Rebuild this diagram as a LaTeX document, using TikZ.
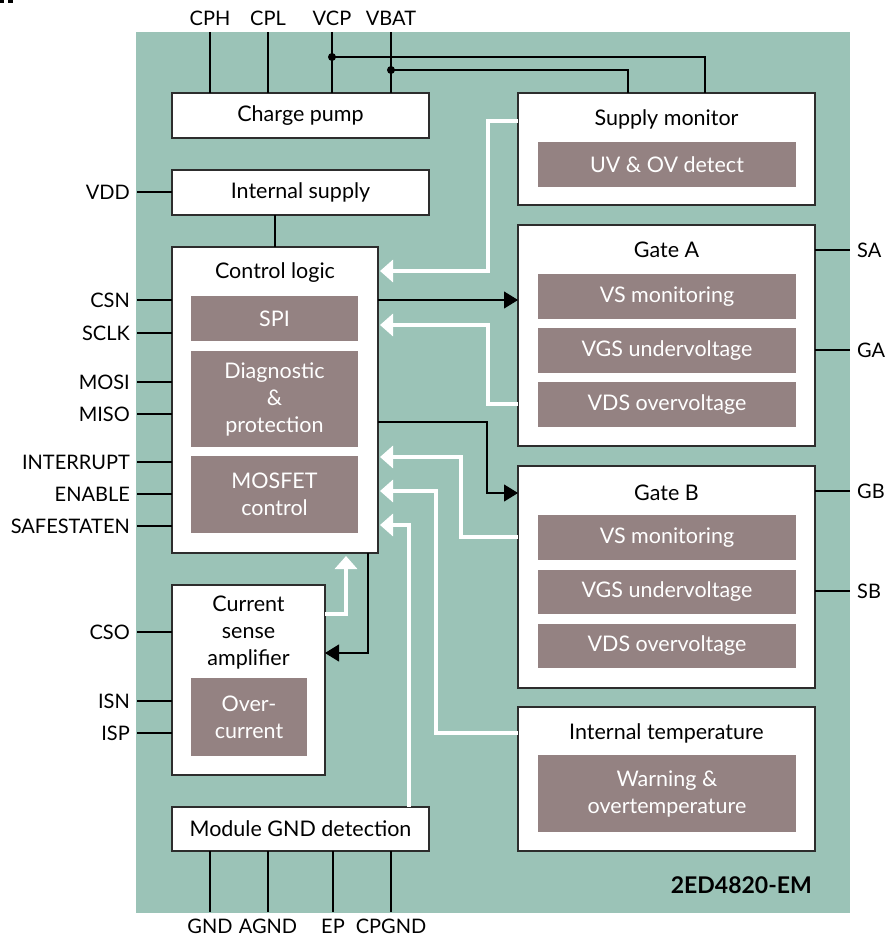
\documentclass[tikz,border=0pt]{standalone}
\usepackage{fontspec}
\setmainfont{Lato}
\usetikzlibrary{arrows.meta}
\definecolor{teal}{RGB}{155,195,183}
\definecolor{subc}{RGB}{148,130,130}
\definecolor{bord}{RGB}{45,45,45}
\begin{document}
\begin{tikzpicture}[x=1pt,y=-1pt,
  every node/.style={font=\fontsize{21.5}{27}\selectfont, text=black},
  blk/.style={draw=bord, line width=1.2pt, fill=white, inner sep=0pt, outer sep=0pt},
  subblk/.style={fill=subc, inner sep=0pt, outer sep=0pt, text=white, align=center},
  ttl/.style={inner sep=0pt, align=center},
  pin/.style={line width=1.1pt, draw=black},
  wire/.style={line width=1.1pt, draw=black},
  wflow/.style={line width=4pt, draw=white, -{Triangle[width=22pt,length=13pt,fill=white]}},
  bflow/.style={line width=1.1pt, draw=black, -{Triangle[width=17pt,length=14pt]}},
  lbl/.style={inner sep=0pt, font=\fontsize{20}{24}\selectfont}
]
\useasboundingbox (0,0) rectangle (884,937);
\fill[black] (0,0) rectangle (4,3);
\fill[black] (8,0) rectangle (13,3);
\fill[teal] (136,32) rectangle (850,913);

% boxes
\node[blk, minimum width=257pt, minimum height=45pt] (cp) at (300.5,115.5) {Charge pump};
\node[blk, minimum width=257pt, minimum height=45pt] (is) at (300.5,192.5) {Internal supply};
\node[blk, minimum width=206pt, minimum height=306pt] (cl) at (275,400) {};
\node[ttl] (clt) at (275,273) {Control logic};
\node[subblk, minimum width=167pt, minimum height=45pt] (spi) at (274.5,318.5) {SPI};
\node[subblk, minimum width=167pt, minimum height=96pt] (diag) at (274.5,399) {Diagnostic\\\&\\protection};
\node[subblk, minimum width=167pt, minimum height=77pt] (mos) at (274.5,494.5) {MOSFET\\control};
\node[blk, minimum width=153pt, minimum height=190pt] (csa) at (248.5,680) {};
\node[ttl] (csat) at (248.5,633) {Current\\sense\\amplifier};
\node[subblk, minimum width=116pt, minimum height=78pt] (oc) at (249,717) {Over-\\current};
\node[blk, minimum width=257pt, minimum height=44pt] (gnd) at (300.5,829) {Module GND detection};

\node[blk, minimum width=297pt, minimum height=112pt] (sm) at (666.5,149) {};
\node[ttl] (smt) at (666.5,119) {Supply monitor};
\node[subblk, minimum width=258pt, minimum height=45pt] (uv) at (667,164.5) {UV \& OV detect};

\node[blk, minimum width=297pt, minimum height=221pt] (ga) at (666.5,335.5) {};
\node[ttl] (gat) at (666.5,250) {Gate A};
\node[subblk, minimum width=258pt, minimum height=45pt] (ga1) at (667,296.5) {VS monitoring};
\node[subblk, minimum width=258pt, minimum height=45pt] (ga2) at (667,350.5) {VGS undervoltage};
\node[subblk, minimum width=258pt, minimum height=45pt] (ga3) at (667,404.5) {VDS overvoltage};

\node[blk, minimum width=297pt, minimum height=222pt] (gb) at (666.5,577) {};
\node[ttl] (gbt) at (666.5,493) {Gate B};
\node[subblk, minimum width=258pt, minimum height=45pt] (gb1) at (667,537.5) {VS monitoring};
\node[subblk, minimum width=258pt, minimum height=44pt] (gb2) at (667,592) {VGS undervoltage};
\node[subblk, minimum width=258pt, minimum height=44pt] (gb3) at (667,646) {VDS overvoltage};

\node[blk, minimum width=297pt, minimum height=144pt] (it) at (666.5,779) {};
\node[ttl] (itt) at (666.5,733) {Internal temperature};
\node[subblk, minimum width=258pt, minimum height=77pt] (wo) at (667,793.5) {Warning \&\\overtemperature};

\node[inner sep=0pt, anchor=east, font=\fontsize{23}{27}\selectfont\bfseries] (part) at (812,885) {2ED4820-EM};

% top pins
\node[lbl] (cph) at (210,18) {CPH};
\node[lbl] (cpl) at (268,18) {CPL};
\node[lbl] (vcp) at (332,18) {VCP};
\node[lbl] (vbat) at (391,18) {VBAT};
\draw[pin] (cph |- 0,32) -- (cph |- cp.north);
\draw[pin] (cpl |- 0,32) -- (cpl |- cp.north);
\draw[pin] (vcp |- 0,32) -- (vcp |- cp.north);
\draw[pin] (vbat |- 0,32) -- (vbat |- cp.north);
\coordinate (j1) at (332,57);
\coordinate (j2) at (391,70);
\fill (j1) circle (4pt);
\fill (j2) circle (4pt);
\draw[wire] (j1) -| (sm.north -| 705,0);
\draw[wire] (j2) -| (sm.north -| 628,0);

% VDD
\node[lbl, anchor=east] (vdd) at (130,192) {VDD};
\draw[pin] (137,192) -- (is.west |- 0,192);
\draw[wire] (is.south -| 275,0) -- (cl.north -| 275,0);

% left pins
\foreach \n/\y in {CSN/300, SCLK/333, MOSI/382, MISO/414, INTERRUPT/462, ENABLE/494, SAFESTATEN/526}{
  \node[lbl, anchor=east] (p\n) at (130,\y) {\n};
  \draw[pin] (137,\y) -- (cl.west |- 0,\y);
}
\foreach \n/\y in {CSO/632, ISN/701, ISP/733}{
  \node[lbl, anchor=east] (p\n) at (130,\y) {\n};
  \draw[pin] (137,\y) -- (csa.west |- 0,\y);
}

% right pins
\foreach \n/\y/\b in {SA/250/ga, GA/350/ga, GB/491/gb, SB/591/gb}{
  \node[lbl, anchor=west] (p\n) at (857,\y) {\n};
  \draw[pin] (\b.east |- 0,\y) -- (850,\y);
}

% bottom pins
\foreach \n/\x in {GND/210, AGND/268, EP/333, CPGND/391}{
  \node[lbl] (p\n) at (\x,926) {\n};
  \draw[pin] (gnd.south -| \x,0) -- (\x,912);
}

% flows
\draw[wflow] (sm.west |- 0,121) -- (488,121) -- (488,271) -- ([xshift=2pt]cl.east |- 0,271);
\draw[bflow] (cl.east |- 0,300) -- (ga.west |- 0,300);
\draw[wflow] (ga.west |- 0,404) -| (488,325) -- ([xshift=2pt]cl.east |- 0,325);
\draw[bflow] (cl.east |- 0,422) -| (487,493) -- (gb.west |- 0,493);
\draw[wflow] (gb.west |- 0,537) -| (461,457) -- ([xshift=2pt]cl.east |- 0,457);
\draw[wflow] (it.west |- 0,733) -| (436,491) -- ([xshift=2pt]cl.east |- 0,491);
\draw[wflow] (gnd.north -| 409,0) |- ([xshift=2pt]cl.east |- 0,525);
\draw[wflow] (csa.east |- 0,614) -| ([yshift=-3pt]cl.south -| 346,0);
\draw[bflow] (cl.south -| 368,0) |- (csa.east |- 0,653);
\end{tikzpicture}
\end{document}
